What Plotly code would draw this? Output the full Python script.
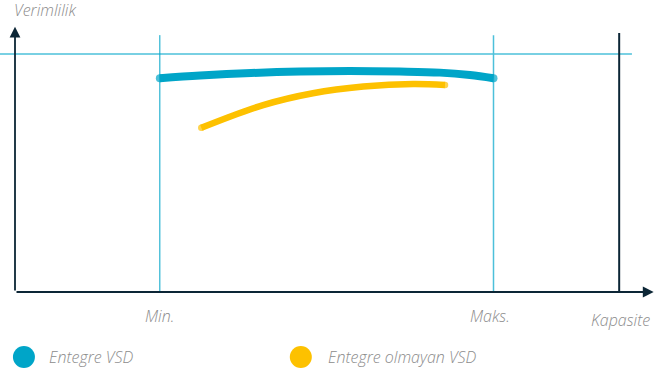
import plotly.graph_objects as go

# ---- data (capacity % of axis length, efficiency % of axis height) ----
blue_x = [22.7, 29.0, 37.0, 44.7, 52.5, 60.3, 66.6, 71.3, 75.0]
blue_y = [81.0, 82.0, 82.95, 83.5, 83.7, 83.5, 83.1, 82.2, 81.0]
yellow_x = [29.2, 38.9, 46.7, 54.6, 62.4, 67.4]
yellow_y = [62.2, 70.8, 75.3, 77.8, 78.8, 78.4]

MIN_CAP = 22.7
MAX_CAP = 75.0
FULL_CAP = 94.7
REF_EFF = 90.2

series_names = ["Entegre VSD", "Entegre olmayan VSD"]
x_labels = ["Min.", "Maks.", "Kapasite"]
y_label = "Verimlilik"

BLUE = "#00a5c8"
YELLOW = "#fdc100"
CYAN = "#4cc0da"
DARK = "#0c2636"
GREY = "#8c8c8c"
FONT = "Open Sans"

fig = go.Figure()

def ends(n, s):
    return [s] + [0] * (n - 2) + [s]

fig.add_trace(go.Scatter(
    x=blue_x, y=blue_y, mode="lines+markers",
    line=dict(color=BLUE, width=8, shape="spline", smoothing=1.0),
    marker=dict(color=BLUE, size=ends(len(blue_x), 8), line=dict(width=0)),
    name=series_names[0], showlegend=False, hoverinfo="skip"))
fig.add_trace(go.Scatter(
    x=yellow_x, y=yellow_y, mode="lines+markers",
    line=dict(color=YELLOW, width=6.5, shape="spline", smoothing=1.0),
    marker=dict(color=YELLOW, size=ends(len(yellow_x), 6.5), line=dict(width=0)),
    name=series_names[1], showlegend=False, hoverinfo="skip"))

# legend dots
fig.add_trace(go.Scatter(
    x=[1.4, 44.8], y=[-24.6, -24.6], mode="markers",
    marker=dict(color=[BLUE, YELLOW], size=22, line=dict(width=0)),
    showlegend=False, hoverinfo="skip", cliponaxis=False))

shapes = [
    dict(type="line", x0=-2.35, x1=96.7, y0=REF_EFF, y1=REF_EFF,
         line=dict(color=CYAN, width=1.5), layer="below"),
    dict(type="line", x0=MIN_CAP, x1=MIN_CAP, y0=0, y1=97.3,
         line=dict(color=BLUE, width=1), layer="below"),
    dict(type="line", x0=MAX_CAP, x1=MAX_CAP, y0=0, y1=97.3,
         line=dict(color=CYAN, width=1.5), layer="below"),
    dict(type="line", x0=FULL_CAP, x1=FULL_CAP, y0=0, y1=98.1,
         line=dict(color=DARK, width=2), layer="below"),
]

tf = dict(family=FONT, size=16, color=GREY, style="italic", weight=300)
annotations = [
    # axes arrows
    dict(x=0, y=100.5, ax=0, ay=0, xref="x", yref="y", axref="x", ayref="y",
         showarrow=True, arrowhead=2, arrowsize=1.2, arrowwidth=1.8, arrowcolor=DARK, text=""),
    dict(x=100.1, y=0, ax=0, ay=0, xref="x", yref="y", axref="x", ayref="y",
         showarrow=True, arrowhead=2, arrowsize=1.2, arrowwidth=1.8, arrowcolor=DARK, text=""),
    dict(x=-0.5, y=110.6, text=y_label, showarrow=False, xanchor="left", yanchor="top",
         font=tf, yshift=3),
    dict(x=MIN_CAP, y=-9.1, text=x_labels[0], showarrow=False, xanchor="center", yanchor="middle", font=tf),
    dict(x=74.4, y=-9.1, text=x_labels[1], showarrow=False, xanchor="center", yanchor="middle", font=tf),
    dict(x=99.9, y=-10.6, text=x_labels[2], showarrow=False, xanchor="right", yanchor="middle", font=tf),
    dict(x=5.0, y=-24.6, text=series_names[0], showarrow=False, xanchor="left", yanchor="middle", font=tf),
    dict(x=48.7, y=-24.6, text=series_names[1], showarrow=False, xanchor="left", yanchor="middle", font=tf),
]

fig.update_layout(
    width=654, height=376,
    margin=dict(l=0, r=0, t=0, b=0),
    paper_bgcolor="white", plot_bgcolor="white",
    xaxis=dict(range=[-2.351, 100.157], visible=False, fixedrange=True),
    yaxis=dict(range=[-31.82, 110.61], visible=False, fixedrange=True),
    shapes=shapes, annotations=annotations, showlegend=False,
)

fig.write_html("out.html")
